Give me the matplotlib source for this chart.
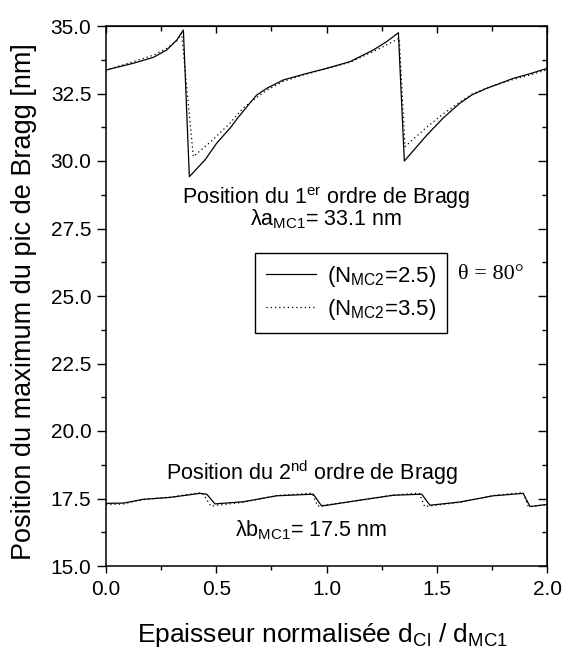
import matplotlib
matplotlib.use("Agg")
import matplotlib.pyplot as plt
from matplotlib.ticker import MultipleLocator, FormatStrFormatter

plt.rcParams['font.family'] = ['Liberation Sans', 'DejaVu Sans']
plt.rcParams['mathtext.fontset'] = 'custom'
plt.rcParams['mathtext.rm'] = 'Liberation Sans'
plt.rcParams['mathtext.it'] = 'Liberation Sans'

# 1st order, N_MC2 = 2.5 (solid)
x1a = [0.0, 0.124, 0.215, 0.275, 0.321, 0.351, 0.378, 0.45, 0.502, 0.562, 0.60, 0.65, 0.683, 0.729,
       0.804, 0.90, 1.0, 1.107, 1.212, 1.273, 1.326,
       1.353, 1.454, 1.53, 1.605, 1.66, 1.726, 1.847, 1.93, 2.0]
y1a = [33.37, 33.62, 33.84, 34.11, 34.48, 34.85, 29.42, 30.05, 30.66, 31.21, 31.62, 32.12, 32.44, 32.69,
       33.0, 33.22, 33.43, 33.68, 34.11, 34.42, 34.75,
       30.0, 30.95, 31.6, 32.14, 32.45, 32.69, 33.06, 33.25, 33.43]
# 1st order, N_MC2 = 3.5 (dotted)
x1b = [0.0, 0.124, 0.215, 0.275, 0.321, 0.343, 0.396, 0.48, 0.562, 0.62, 0.683, 0.729,
       0.804, 0.90, 1.0, 1.107, 1.212, 1.273, 1.33,
       1.356, 1.454, 1.53, 1.605, 1.66, 1.726, 1.847, 1.93, 2.0]
y1b = [33.37, 33.68, 33.92, 34.17, 34.45, 34.73, 30.16, 30.75, 31.40, 31.95, 32.35, 32.62,
       32.95, 33.2, 33.42, 33.66, 34.05, 34.3, 34.55,
       30.53, 31.25, 31.75, 32.18, 32.48, 32.7, 33.02, 33.2, 33.38]

# 2nd order, N_MC2 = 2.5 (solid)
x2a = [0.0, 0.079, 0.169, 0.29, 0.426, 0.457, 0.494, 0.623, 0.774, 0.94, 0.978, 1.152, 1.303, 1.432,
       1.469, 1.605, 1.756, 1.892, 1.923, 2.0]
y2a = [17.32, 17.33, 17.47, 17.54, 17.69, 17.66, 17.30, 17.38, 17.60, 17.66, 17.22, 17.44, 17.62, 17.66,
       17.25, 17.37, 17.60, 17.69, 17.20, 17.28]
# 2nd order, N_MC2 = 3.5 (dotted)
x2b = [0.0, 0.079, 0.169, 0.29, 0.43, 0.445, 0.475, 0.623, 0.774, 0.935, 0.96, 1.152, 1.303, 1.42,
       1.445, 1.605, 1.756, 1.892, 1.915, 2.0]
y2b = [17.27, 17.30, 17.46, 17.55, 17.72, 17.62, 17.22, 17.36, 17.61, 17.70, 17.22, 17.43, 17.63, 17.70,
       17.20, 17.36, 17.61, 17.72, 17.20, 17.27]

W, H = 562, 665
fig = plt.figure(figsize=(W / 100, H / 100), dpi=100)
L, R, T, B = 106, 547, 26, 566
ax = fig.add_axes([L / W, 1 - B / H, (R - L) / W, (B - T) / H])

dot = (0, (1, 2.4))
l1, = ax.plot(x1a, y1a, color='black', lw=0.9, ls='-')
l2, = ax.plot(x1b, y1b, color='black', lw=0.9, ls=dot)
ax.plot(x2a, y2a, color='black', lw=0.9, ls='-')
ax.plot(x2b, y2b, color='black', lw=0.9, ls=dot)

ax.set_xlim(0, 2.0)
ax.set_ylim(15.0, 35.0)
ax.xaxis.set_major_locator(MultipleLocator(0.5))
ax.xaxis.set_minor_locator(MultipleLocator(0.25))
ax.yaxis.set_major_locator(MultipleLocator(2.5))
ax.yaxis.set_minor_locator(MultipleLocator(1.25))
ax.xaxis.set_major_formatter(FormatStrFormatter('%.1f'))
ax.yaxis.set_major_formatter(FormatStrFormatter('%.1f'))
ax.tick_params(which='both', direction='out', top=False, right=False, width=1.0, labelsize=15)
ax.tick_params(axis='y', which='major', length=6.5, pad=4)
ax.tick_params(axis='y', which='minor', length=3.3)
ax.tick_params(axis='x', which='major', length=5, pad=5)
ax.tick_params(axis='x', which='minor', length=3)
for s in ax.spines.values():
    s.set_linewidth(1.1)

# inward ticks on the top and right sides
top = ax.secondary_xaxis('top')
top.xaxis.set_major_locator(MultipleLocator(0.5))
top.xaxis.set_minor_locator(MultipleLocator(0.25))
top.tick_params(which='both', direction='in', labeltop=False, width=1.0)
top.tick_params(which='major', length=5)
top.tick_params(which='minor', length=3.3)
right = ax.secondary_yaxis('right')
right.yaxis.set_major_locator(MultipleLocator(2.5))
right.yaxis.set_minor_locator(MultipleLocator(1.25))
right.tick_params(which='both', direction='in', labelright=False, width=1.0)
right.tick_params(which='major', length=6.5)
right.tick_params(which='minor', length=3.3)

fig.text(24 / W, 1 - 302 / H, 'Position du maximum du pic de Bragg [nm]', fontsize=19.5,
         rotation=90, ha='center', va='center')
fig.text(322 / W, 1 - 642 / H,
         r'Epaisseur normalisée d$_{\mathregular{Cl}}$ / d$_{\mathregular{MC1}}$',
         fontsize=19, ha='center', va='baseline')

ax.text(1.0, 27.6,
        'Position du 1$^{\\mathregular{er}}$ ordre de Bragg\nλa$_{\\mathregular{MC1}}$= 33.1 nm',
        fontsize=15.5, ha='center', va='baseline', multialignment='center', linespacing=0.8)
ax.text(0.933, 18.19, r'Position du 2$^{\mathregular{nd}}$ ordre de Bragg', fontsize=15.5,
        ha='center', va='baseline')
ax.text(0.928, 16.11, r'λb$_{\mathregular{MC1}}$= 17.5 nm', fontsize=15.5, ha='center', va='baseline')
ax.text(1.745, 25.8, 'θ = 80°', fontsize=16, ha='center', va='center', family='Liberation Serif')

leg = ax.legend([l1, l2], [r'(N$_{\mathregular{MC2}}$=2.5)', r'(N$_{\mathregular{MC2}}$=3.5)'],
                loc='upper left', bbox_to_anchor=((255 - L) / (R - L), (B - 253) / (B - T)),
                fontsize=16, frameon=True, fancybox=False, edgecolor='black', framealpha=1,
                handlelength=2.25, borderpad=0.5, labelspacing=0.35, handletextpad=0.5,
                borderaxespad=0)
leg.get_frame().set_linewidth(1.0)

fig.savefig('out.png', dpi=100)
